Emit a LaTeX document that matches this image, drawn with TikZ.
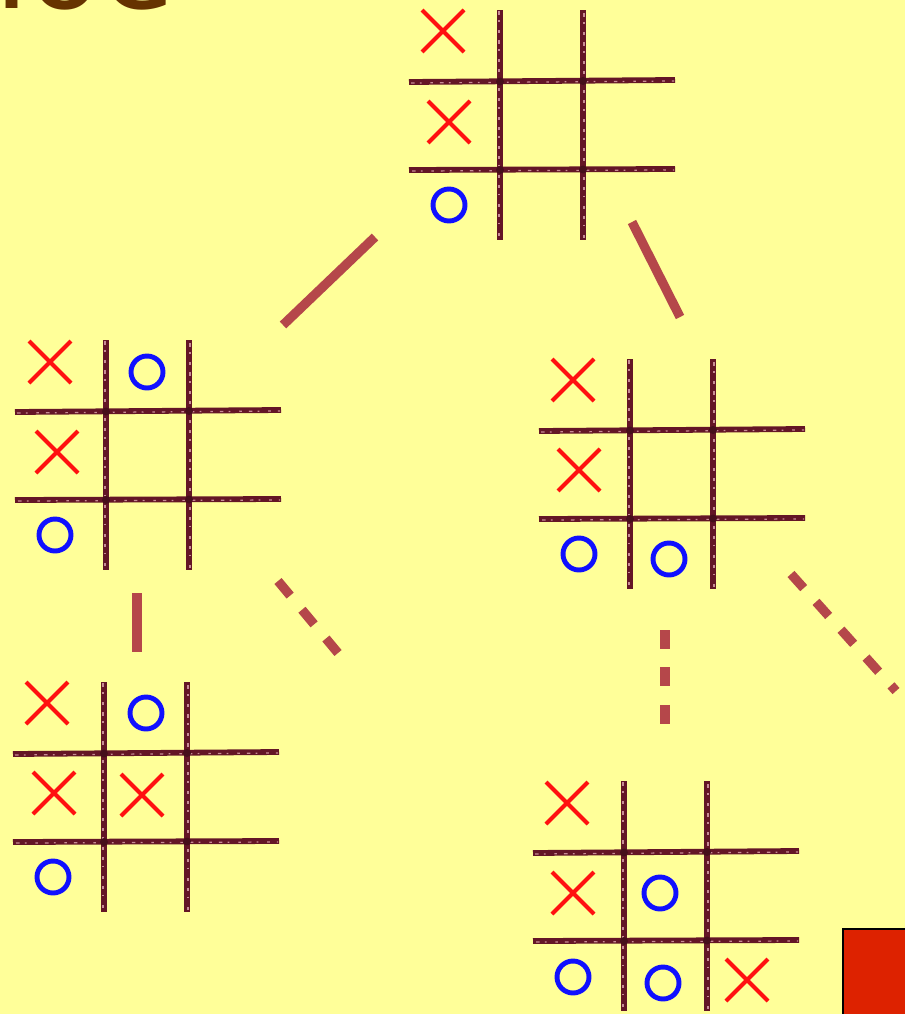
\documentclass[tikz,border=0pt]{standalone}
\usepackage{fontspec}
\newfontfamily\titlefont{DejaVu Sans}
\definecolor{bg}{RGB}{255,255,153}
\definecolor{gridc}{RGB}{100,22,38}
\definecolor{gridl}{RGB}{200,140,150}
\definecolor{xred}{RGB}{255,16,16}
\definecolor{oblue}{RGB}{16,16,255}
\definecolor{conncol}{RGB}{181,71,74}
\definecolor{titlecol}{RGB}{102,51,0}
\definecolor{redbox}{RGB}{221,34,0}
\tikzset{
  gridline/.style={draw=gridc, line width=3.3pt},
  gridtex/.style={draw=gridl, line width=0.7pt, dash pattern=on 2pt off 3pt on 1pt off 5pt on 1.5pt off 4pt},
  xstroke/.style={draw=xred, line width=2.3pt},
  ostroke/.style={draw=oblue, line width=2.8pt},
  branch/.style={draw=conncol, line width=5.3pt},
  dashbranch/.style={branch, dash pattern=on 10.8pt off 10.5pt},
  titletext/.style={inner sep=0pt, anchor=base west, text=titlecol, font=\titlefont\fontsize{68}{70}\selectfont},
  pics/board/.style={code={
    \draw[gridline] (0,-71) -- (0,159);
    \draw[gridline] (83,-71) -- (83,159);
    \draw[gridline] (-91,1) -- (175,-1);
    \draw[gridline] (-91,89) -- (175,88);
    \draw[gridtex] (-1,-70) -- (-1,158);
    \draw[gridtex] (84,-68) -- (84,158);
    \draw[gridtex] (-89,2) -- (174,0);
    \draw[gridtex] (-88,90) -- (174,89);
    \fill[gridc!70!black] (0,0.5) circle[radius=4] (83,0) circle[radius=4]
      (0,89) circle[radius=4] (83,88.5) circle[radius=4];
  }},
  pics/xm/.style={code={\draw[xstroke] (-21,-21) -- (21,21) (-21,21) -- (21,-21);}},
  pics/om/.style={code={\draw[ostroke] (0,0) circle[radius=16];}},
}
\begin{document}
\begin{tikzpicture}[x=0.02cm,y=-0.02cm]
\useasboundingbox (0,0) rectangle (905,1014);
\clip (0,0) rectangle (905,1014);
\fill[bg] (0,0) rectangle (905,1014);
\node[titletext] (title) at (-25,9) {Toe};

% boards
\pic at (500,81) {board};
\pic at (106,411) {board};
\pic at (630,430) {board};
\pic at (104,753) {board};
\pic at (624,852) {board};

% top board marks
\pic at (443,31) {xm};
\pic at (449,122) {xm};
\pic at (449,205) {om};
% board 2
\pic at (50,362) {xm};
\pic at (57,452) {xm};
\pic at (147,372) {om};
\pic at (55,535) {om};
% board 3
\pic at (573,380) {xm};
\pic at (579,470) {xm};
\pic at (579,554) {om};
\pic at (669,559) {om};
% board 4
\pic at (47,703) {xm};
\pic at (146,713) {om};
\pic at (54,793) {xm};
\pic at (142,795) {xm};
\pic at (53,877) {om};
% board 5
\pic at (567,803) {xm};
\pic at (573,893) {xm};
\pic at (660,893) {om};
\pic at (573,977) {om};
\pic at (663,983) {om};
\pic at (747,980) {xm};

% connectors
\coordinate (tl1) at (375,237);
\coordinate (tl2) at (283,325);
\coordinate (tr1) at (632,222);
\coordinate (tr2) at (680,317);
\coordinate (lv1) at (137,593);
\coordinate (lv2) at (137,652);
\coordinate (ld1) at (278,581);
\coordinate (ld2) at (338,653);
\coordinate (rv1) at (665,630);
\coordinate (rv2) at (665,724);
\coordinate (rd1) at (791,574);
\coordinate (rd2) at (896,691);
\draw[branch] (tl1) -- (tl2);
\draw[branch] (tr1) -- (tr2);
\draw[branch] (lv1) -- (lv2);
\draw[dashbranch] (ld1) -- (ld2);
\draw[dashbranch] (rv1) -- (rv2);
\draw[dashbranch] (rd1) -- (rd2);

% red box
\filldraw[fill=redbox, draw=black, line width=0.6pt] (843,929) rectangle (915,1025);
\end{tikzpicture}
\end{document}
